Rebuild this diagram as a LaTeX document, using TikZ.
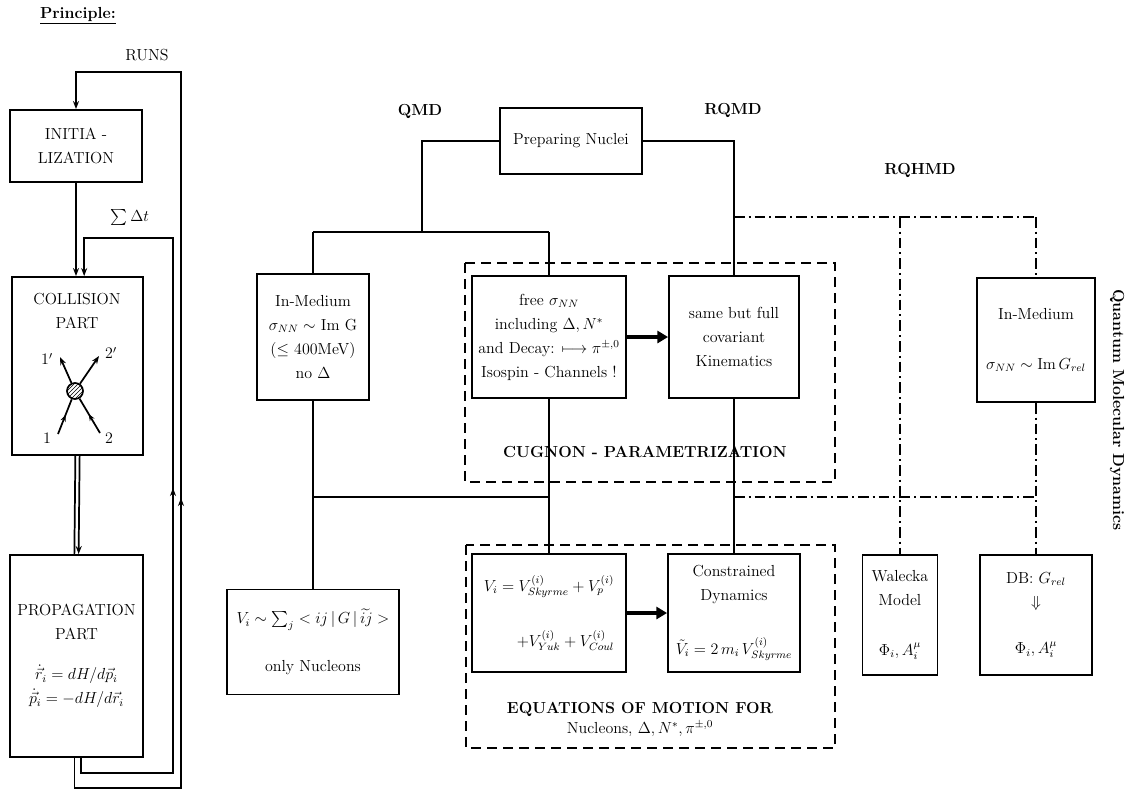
\documentclass[tikz,border=0pt]{standalone}
\usepackage{amsmath,amssymb}
\usetikzlibrary{arrows.meta,patterns,decorations.markings}
\begin{document}
\begin{tikzpicture}[x=0.75pt,y=-0.75pt,
  every node/.style={font=\fontsize{12}{18}\selectfont},
  ln/.style={line width=1.3pt},
  box/.style={draw,line width=1.4pt,align=center,inner sep=1pt},
  wh/.style 2 args={minimum width=#1*0.75pt,minimum height=#2*0.75pt},
  dashbox/.style={draw,line width=1.2pt,dash pattern=on 7.5pt off 4.5pt},
  dd/.style={line width=1.2pt,dash pattern=on 8pt off 3pt on 1.5pt off 3pt},
  bigarrow/.style={-{Triangle[length=8pt,width=9pt]},line width=3.4pt},
  arr/.style={-{Stealth[length=6pt,width=4.5pt]}},
  midarrow/.style={postaction={decorate},decoration={markings,mark=at position 0.55 with {\arrow{Stealth[length=5pt,width=4pt]}}}},
  lbl/.style={font=\fontsize{12}{16}\selectfont\bfseries}]
\useasboundingbox (0,0) rectangle (1131,790);

% ---------------- left: principle ----------------
\node[lbl] (pr) at (78,16) {\underline{Principle:}};
\node (runs) at (147,55) {RUNS};
\node (sdt) at (130,217) {$\sum\Delta t$};

\node[box,wh={132}{72}] (init) at (76,146) {INITIA -\\LIZATION};
\node[box,wh={131}{178}] (coll) at (77.5,366) {};
\node[align=center] (collt) at (77,311) {COLLISION\\PART};
\node[box,wh={133}{202}] (prop) at (76.5,656) {PROPAGATION\\PART\\[12pt]$\dot{\vec r}_i = dH/d\vec p_i$\\[0pt]$\dot{\vec p}_i = -dH/d\vec r_i$};

% collision sketch
\node[circle,draw,ln,minimum size=16*0.75pt,inner sep=0pt,pattern=north east lines] (blob) at (75,391) {};
\coordinate (o1) at (60,357);
\coordinate (o2) at (99,356);
\coordinate (i1) at (58,434);
\coordinate (i2) at (100,433);
\draw[ln,arr] (blob) -- (o1);
\draw[ln,arr] (blob) -- (o2);
\draw[ln,midarrow] (i1) -- (blob);
\draw[ln,midarrow] (i2) -- (blob);
\node (l1p) at (47,359) {$1'$};
\node (l2p) at (111,353) {$2'$};
\node (l1) at (47,438) {$1$};
\node (l2) at (109,438) {$2$};

% flow
\draw[ln,arr] (init.south) -- (init.south |- coll.north);
\draw[ln] ([xshift=-1.6pt]coll.south) -- ([xshift=-1.6pt]prop.north);
\draw[ln,arr] ([xshift=1.6pt]coll.south) -- ([xshift=1.6pt]prop.north);
\coordinate (runsTop) at (181,72);
\coordinate (sdtTop) at (173,238);
\draw[ln,arr] ([xshift=-1.6pt]prop.south) -- ++(0,30) -| (runsTop) -| (init.north);
\draw[ln,arr] ([xshift=3.5pt]prop.south) -- ++(0,15) -| (sdtTop) -| ([xshift=5pt]coll.north);
\draw[ln,arr] (181,505) -- (181,498);
\draw[ln,arr] (173,495) -- (173,488);

% ---------------- main diagram ----------------
\node[lbl] (qmd) at (420,111) {QMD};
\node[lbl] (rqmd) at (733,110) {RQMD};
\node[lbl] (rqhmd) at (920,170) {RQHMD};
\node[lbl,rotate=-90] (qmdTitle) at (1117,410) {Quantum Molecular Dynamics};

\node[box,wh={142}{66}] (prep) at (571,141) {Preparing Nuclei};

% dashed groups
\draw[dashbox] (465,263) rectangle (835,482);
\draw[dashbox] (466,545) rectangle (835,748);
\node[lbl] (cug) at (645,452) {CUGNON - PARAMETRIZATION};
\node[align=center] (eqt) at (640,719) {\textbf{EQUATIONS OF MOTION FOR}\\[-3pt]Nucleons, $\Delta, N^{*}, \pi^{\pm,0}$};

\node[box,wh={112}{126}] (qmdIn) at (313,337) {In-Medium\\$\sigma_{NN}\sim$ Im G\\($\leq$ 400MeV)\\no $\Delta$};
\node[box,wh={154}{122}] (freeS) at (549,337) {free $\sigma_{NN}$\\including $\Delta, N^{*}$\\and Decay: $\longmapsto\pi^{\pm,0}$\\Isospin - Channels !};
\node[box,wh={130}{122}] (same) at (734,337) {same but full\\covariant\\Kinematics};
\node[box,wh={118}{124}] (rqIn) at (1036,340) {In-Medium\\[19pt]$\sigma_{NN}\sim \mathrm{Im}\,G_{rel}$};

\node[box,wh={172}{105}] (viQ) at (313,642) {$V_i\sim\sum_j < ij\,|\,G\,|\,\widetilde{ij} >$\\[18pt]only Nucleons};
\node[box,wh={154}{118},align=right] (viEq) at (549,613) {$V_i = V^{(i)}_{Skyrme} + V^{(i)}_{p}$\\[23pt]$+V^{(i)}_{Yuk} + V^{(i)}_{Coul}$};
\node[box,wh={132}{118}] (constr) at (734,613) {Constrained\\Dynamics\\[22pt]$\tilde V_i = 2\,m_i\,V^{(i)}_{Skyrme}$};
\node[box,wh={75}{120}] (walecka) at (900,615) {Walecka\\Model\\[19pt]$\Phi_i, A^{\mu}_i$};
\node[box,wh={112}{120}] (db) at (1036,615) {DB: $G_{rel}$\\$\Downarrow$\\[17pt]$\Phi_i, A^{\mu}_i$};

% solid connectors
\coordinate (qj) at (422,232);
\coordinate (ql) at (313,232);
\coordinate (qr) at (549,232);
\draw[ln] (prep.west) -| (qj);
\draw[ln] (ql) -- (qr);
\draw[ln] (ql) -- (qmdIn.north);
\draw[ln] (qr) -- (freeS.north);
\draw[ln] (prep.east) -| (same.north);
\draw[ln] (qmdIn.south) -- (viQ.north);
\coordinate (bl) at (313,497);
\coordinate (br) at (549,497);
\draw[ln] (bl) -- (br);
\draw[ln] (freeS.south) -- (viEq.north);
\draw[ln] (same.south) -- (constr.north);
\draw[bigarrow] (freeS.east) -- (same.west);
\draw[bigarrow] (viEq.east) -- (constr.west);

% dash-dot connectors
\coordinate (d1) at (734,217);
\coordinate (d2) at (900,217);
\coordinate (d3) at (1036,217);
\draw[dd] (d1) -- (d3);
\draw[dd] (d2) -- (walecka.north);
\draw[dd] (d3) -- (rqIn.north);
\draw[dd] (rqIn.south) -- (db.north);
\coordinate (e1) at (734,497);
\coordinate (e3) at (1036,497);
\draw[dd] (e1) -- (e3);
\end{tikzpicture}
\end{document}
